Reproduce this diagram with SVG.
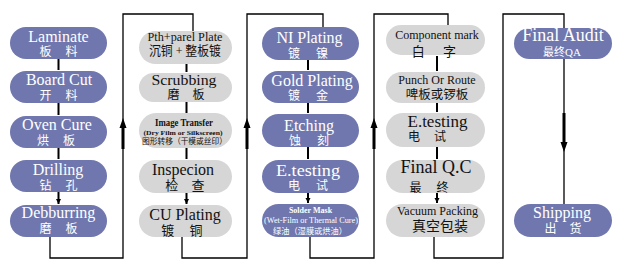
<svg xmlns="http://www.w3.org/2000/svg" width="626" height="268" viewBox="0 0 626 268">
<defs>
<style>
.b{fill:#6f77ae}
.g{fill:#d6d6d6}
.en{font-family:"Liberation Serif",serif;text-anchor:middle}
.zh{font-family:"Liberation Serif","Noto Sans CJK SC",serif;text-anchor:middle}
.w{fill:#ffffff}
.k{fill:#111111}
.ln{fill:none;stroke:#000;stroke-width:1.3}
.sa{fill:none;stroke:#000;stroke-width:2}
.thk{fill:none;stroke:#000;stroke-width:3}
</style>
<marker id="ah" markerWidth="6" markerHeight="6" refX="5" refY="2.5" orient="auto" markerUnits="userSpaceOnUse"><path d="M0,0 L5,2.5 L0,5 z" fill="#000"/></marker>
</defs>
<rect width="626" height="268" fill="#ffffff"/>

<g id="connectors">
<path class="ln" d="M50,237 V258 H123 V14 H193 V31"/>
<path class="ln" d="M182,237 V258 H247 V14 H323 V27"/>
<path class="ln" d="M310,237 V258 H374 V14 H448 V25"/>
<path class="ln" d="M434,237 V258 H503 V14 H564 V28"/>
<path class="ln" d="M564,59 V204"/>
<path class="thk" d="M123,127 V149 M247,127 V149 M374,127 V149 M564,113 V143"/>
<path d="M123,118 L119.5,128 L126.5,128 z M247,118 L243.5,128 L250.5,128 z M374,118 L370.5,128 L377.5,128 z M564,152 L560.5,142 L567.5,142 z" fill="#000"/>
<path class="sa" marker-end="url(#ah)" d="M58.5,59 V70 M58.5,103 V115 M58.5,148 V159 M58.5,192 V204"/>
<path class="sa" marker-end="url(#ah)" d="M186.5,64 V72 M186.5,102 V113 M186.5,148 V159 M186.5,193 V204"/>
<path class="sa" marker-end="url(#ah)" d="M308,60 V70 M308,103 V113 M308,147 V159 M308,193 V203"/>
<path class="sa" marker-end="url(#ah)" d="M437,56 V71 M437,103 V112 M437,147 V159 M437,193 V203"/>
</g>

<g id="laminate"><rect class="b" x="10" y="27" width="97" height="32" rx="16"/>
<text class="en w" x="58.5" y="41.5" font-size="16">Laminate</text>
<text class="zh w" x="58.5" y="56" font-size="12" word-spacing="11">板 料</text></g>
<g id="boardcut"><rect class="b" x="10" y="71" width="97" height="32" rx="16"/>
<text class="en w" x="59" y="85" font-size="16">Board Cut</text>
<text class="zh w" x="58.5" y="99.5" font-size="12" word-spacing="11">开 料</text></g>
<g id="ovencure"><rect class="b" x="10" y="116" width="97" height="32" rx="16"/>
<text class="en w" x="57" y="130" font-size="16">Oven Cure</text>
<text class="zh w" x="56" y="144.5" font-size="12" word-spacing="11">烘 板</text></g>
<g id="drilling"><rect class="b" x="10" y="160" width="97" height="32" rx="16"/>
<text class="en w" x="58" y="175" font-size="16">Drilling</text>
<text class="zh w" x="58.5" y="189.5" font-size="12" word-spacing="11">钻 孔</text></g>
<g id="debburring"><rect class="b" x="10" y="205" width="97" height="32" rx="16"/>
<text class="en w" x="58.5" y="218" font-size="16">Debburring</text>
<text class="zh w" x="58.5" y="232.5" font-size="12" word-spacing="11">磨 板</text></g>

<g id="pth"><rect class="g" x="139" y="31" width="93" height="33" rx="16.5"/>
<text class="en k" x="185" y="40.5" font-size="12" textLength="75" lengthAdjust="spacingAndGlyphs">Pth+parel Plate</text>
<text class="zh k" x="185" y="54.5" font-size="13" textLength="72" lengthAdjust="spacingAndGlyphs">沉铜 + 整板镀</text></g>
<g id="scrubbing"><rect class="g" x="139" y="73" width="93" height="29" rx="14.5"/>
<text class="en k" x="184" y="85" font-size="15" textLength="65" lengthAdjust="spacingAndGlyphs">Scrubbing</text>
<text class="zh k" x="186" y="99" font-size="12" word-spacing="10">磨 板</text></g>
<g id="imagetransfer"><rect class="g" x="139" y="113" width="93" height="35" rx="17.5"/>
<text class="en k" x="184" y="126" font-size="11" font-weight="bold" textLength="58" lengthAdjust="spacingAndGlyphs">Image Transfer</text>
<text class="en k" x="183" y="135" font-size="7" font-weight="bold" textLength="79" lengthAdjust="spacingAndGlyphs">(Dry Film or Silkscreen)</text>
<text class="zh k" x="184.5" y="144" font-size="8" textLength="85" lengthAdjust="spacingAndGlyphs">图形转移（干模或丝印）</text></g>
<g id="inspecion"><rect class="g" x="139" y="160" width="93" height="33" rx="16.5"/>
<text class="en k" x="183" y="175" font-size="16">Inspecion</text>
<text class="zh k" x="185" y="190" font-size="13" word-spacing="10">检 查</text></g>
<g id="cuplating"><rect class="g" x="139" y="205" width="93" height="32" rx="16"/>
<text class="en k" x="185" y="220" font-size="16">CU Plating</text>
<text class="zh k" x="182" y="235" font-size="13" word-spacing="12">镀 铜</text></g>

<g id="niplating"><rect class="b" x="262" y="27" width="97" height="33" rx="16.5"/>
<text class="en w" x="309.5" y="43" font-size="16">NI Plating</text>
<text class="zh w" x="308" y="57.5" font-size="12" word-spacing="13">镀 镍</text></g>
<g id="goldplating"><rect class="b" x="262" y="71" width="97" height="32" rx="16"/>
<text class="en w" x="312" y="85.5" font-size="16">Gold Plating</text>
<text class="zh w" x="308" y="100" font-size="12" word-spacing="13">镀 金</text></g>
<g id="etching"><rect class="b" x="262" y="114" width="97" height="33" rx="16.5"/>
<text class="en w" x="309" y="130.5" font-size="16">Etching</text>
<text class="zh w" x="309" y="145" font-size="12" word-spacing="13">蚀 刻</text></g>
<g id="etesting1"><rect class="b" x="262" y="160" width="97" height="33" rx="16.5"/>
<text class="en w" x="308" y="175.5" font-size="17" textLength="64" lengthAdjust="spacingAndGlyphs">E.testing</text>
<text class="zh w" x="308" y="190" font-size="12" word-spacing="13">电 试</text></g>
<g id="soldermask"><rect class="b" x="262" y="204" width="97" height="33" rx="16.5"/>
<text class="en w" x="310.5" y="212.5" font-size="8" font-weight="bold">Solder Mask</text>
<text class="en w" x="311" y="223" font-size="9" textLength="94" lengthAdjust="spacingAndGlyphs">(Wet-Film or Thermal Cure)</text>
<text class="zh w" x="310" y="234" font-size="8.5" textLength="74" lengthAdjust="spacingAndGlyphs">绿油（湿膜或烘油）</text></g>

<g id="componentmark"><rect class="g" x="386" y="25" width="99" height="30" rx="15"/>
<text class="en k" x="437" y="39" font-size="12">Component mark</text>
<text class="zh k" x="434" y="56" font-size="13" word-spacing="15">白 字</text></g>
<g id="punchroute"><rect class="g" x="386" y="72" width="99" height="31" rx="15.5"/>
<text class="en k" x="437" y="84" font-size="12">Punch Or Route</text>
<text class="zh k" x="437" y="99" font-size="12.5">啤板或锣板</text></g>
<g id="etesting2"><rect class="g" x="386" y="113" width="99" height="34" rx="17"/>
<text class="en k" x="437.5" y="126.5" font-size="17">E.testing</text>
<text class="zh k" x="427" y="141" font-size="12" word-spacing="11">电 试</text></g>
<g id="finalqc"><rect class="g" x="386" y="160" width="99" height="33" rx="16.5"/>
<text class="en k" x="436" y="173" font-size="18">Final Q.C</text>
<text class="zh k" x="429" y="192" font-size="12" word-spacing="12">最 终</text></g>
<g id="vacuum"><rect class="g" x="386" y="204" width="99" height="33" rx="16.5"/>
<text class="en k" x="437.5" y="215" font-size="12">Vacuum Packing</text>
<text class="zh k" x="440" y="231" font-size="14">真空包装</text></g>

<g id="finalaudit"><rect class="b" x="514" y="28" width="98" height="31" rx="15.5"/>
<text class="en w" x="563" y="41" font-size="18">Final Audit</text>
<text class="zh w" x="562" y="56" font-size="11">最终QA</text></g>
<g id="shipping"><rect class="b" x="514" y="204" width="98" height="33" rx="16.5"/>
<text class="en w" x="562" y="218" font-size="16">Shipping</text>
<text class="zh w" x="563" y="233" font-size="12" word-spacing="10">出 货</text></g>
</svg>
